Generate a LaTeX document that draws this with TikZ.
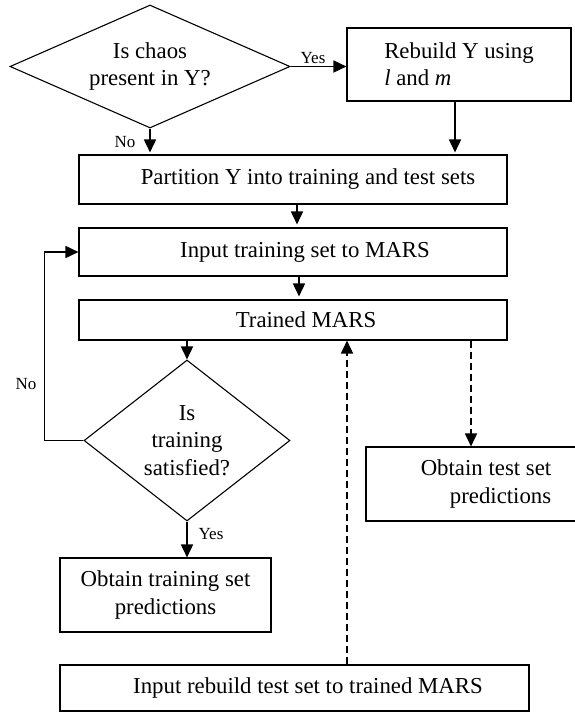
\documentclass[tikz,border=0pt]{standalone}
\usepackage{fontspec}
\setmainfont{Liberation Serif}
\usetikzlibrary{shapes.geometric,arrows.meta}
\begin{document}
\begin{tikzpicture}[x=1pt,y=-1pt,
  every node/.style={font=\fontsize{22.8}{27.4}\selectfont},
  box/.style={draw,line width=1.1pt,inner sep=0pt},
  decision/.style={draw,diamond,line width=1.1pt,inner sep=0pt,align=center},
  flow/.style={line width=1.6pt,-{Triangle[length=13pt,width=12pt]}},
  dflow/.style={flow,dash pattern=on 7pt off 4pt},
  lbl/.style={font=\fontsize{17}{20}\selectfont,inner sep=0pt}]
\useasboundingbox (0,0) rectangle (575,712);
\clip (0,0) rectangle (575,712);

% steps and decisions
\node[decision,minimum width=280pt,minimum height=123pt,aspect=2.28] (chaos) at (150,66.5) {Is chaos\\present in Y?};
\node[box,minimum width=224pt,minimum height=73pt,align=left] (rebuild) at (459,64.5) {Rebuild Y using\\\textit{l} and \textit{m}};
\node[box,minimum width=428pt,minimum height=49pt] (part) at (293,179.5) {\hspace*{30pt}Partition Y into training and test sets};
\node[box,minimum width=428pt,minimum height=48pt] (input) at (293,252) {\hspace*{24pt}Input training set to MARS};
\node[box,minimum width=428pt,minimum height=40pt] (trained) at (293,320) {\hspace*{26pt}Trained MARS};
\node[decision,minimum width=206pt,minimum height=161pt,aspect=1.28] (sat) at (187,440.5) {Is\\training\\satisfied?};
\node[box,minimum width=240pt,minimum height=74pt,align=right] (testpred) at (486,484) {Obtain test set\\predictions};
\node[box,minimum width=211pt,minimum height=74pt,align=center] (trainpred) at (165.5,595) {Obtain training set\\predictions};
\node[box,minimum width=469pt,minimum height=46pt] (testin) at (294.5,688) {\hspace*{27pt}Input rebuild test set to trained MARS};

% solid flow
\draw[flow] (chaos.east) -- (chaos.east -| rebuild.west);
\node[lbl] (yes1) at (313,58) {Yes};
\draw[flow,shorten >=2pt] ([xshift=-4pt]rebuild.south) -- ([xshift=-4pt]rebuild.south |- part.north);
\draw[flow,shorten >=2pt] (chaos.south) -- (chaos.south |- part.north);
\node[lbl] (no1) at (125,142) {No};
\draw[flow,shorten >=3pt] ([xshift=4pt]part.south) -- ([xshift=4pt]input.north);
\draw[flow,shorten >=3pt] ([xshift=6pt]input.south) -- ([xshift=6pt]trained.north);
\draw[flow] (trained.south -| sat.north) -- (sat.north);
\draw[flow] (sat.west) -- ++(-39,0) |- (input.west);
\node[lbl] (no2) at (26,384) {No};
\draw[flow] (sat.south) -- (sat.south |- trainpred.north);
\node[lbl] (yes2) at (211,534) {Yes};

% dashed flow of the test set
\coordinate (upx) at (347,0);
\coordinate (downx) at (471,0);
\draw[dflow] (testin.north -| upx) -- (trained.south -| upx);
\draw[dflow] (trained.south -| downx) -- (testpred.north -| downx);
\end{tikzpicture}
\end{document}
